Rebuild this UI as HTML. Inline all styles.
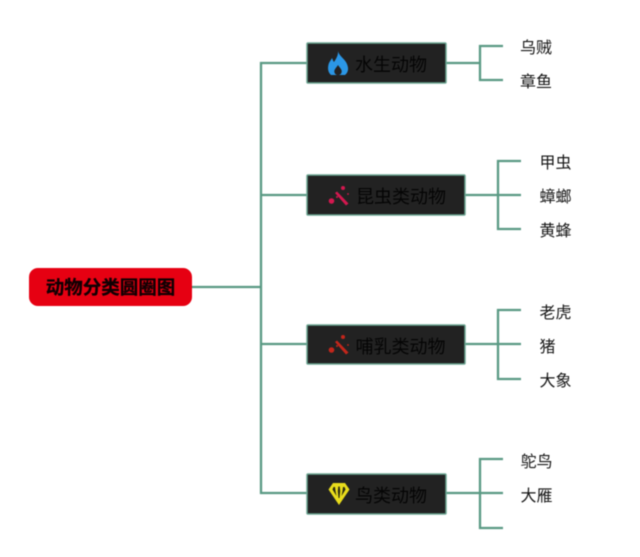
<!DOCTYPE html>
<html lang="zh">
<head>
<meta charset="utf-8">
<style>
html,body{margin:0;padding:0;background:#fff;}
#c{position:relative;width:640px;height:557px;overflow:hidden;background:#fff;filter:blur(0.55px);}
svg{position:absolute;left:0;top:0;}
text{font-family:"Liberation Sans","Noto Sans CJK SC",sans-serif;}
</style>
</head>
<body>
<div id="c">
<svg width="640" height="557" viewBox="0 0 640 557">
  <!-- connectors -->
  <g fill="none" stroke="#5a9a84" stroke-width="2.300">
    <path d="M192 287H261M307 63H261V493H307M261 195H307M261 344H307"/>
    <path d="M446 63H480M503 46H480V80H503"/>
    <path d="M465 195H521M521 161H498V229H521"/>
    <path d="M465 344H521M521 310H498V379H521"/>
    <path d="M446 493H503M503 459H480V528H503"/>
  </g>
  <!-- root -->
  <rect x="29" y="268" width="163" height="38" rx="9" fill="#e60012"/>
  <text x="110.500" y="294" font-size="18.500" font-weight="700" text-anchor="middle" fill="#100003" stroke="#100003" stroke-width="0.300">动物分类圆圈图</text>
  <!-- nodes -->
  <g fill="#222222" stroke="#6ba592" stroke-width="1.500">
    <rect x="307" y="43" width="139" height="40" rx="1"/>
    <rect x="307" y="175" width="158" height="40" rx="1"/>
    <rect x="307" y="325" width="158" height="39" rx="1"/>
    <rect x="307" y="474" width="139" height="40" rx="1"/>
  </g>
  <g font-size="18" fill="#050505">
    <text x="355" y="71">水生动物</text>
    <text x="356" y="203">昆虫类动物</text>
    <text x="355.500" y="353">哺乳类动物</text>
    <text x="355" y="502">鸟类动物</text>
  </g>
  <!-- flame -->
  <path fill="#2b97e6" fill-rule="evenodd" d="M338 51C339 56 344 58 346.500 63C349 68 348.500 72 345 75H331C327.500 72 327.500 67 329 63C330 61 331 60 332 58C333 60 333 61 334 62C336 59 338.500 55 338 51ZM338 65C336 68 333.500 70 334.500 72.500C335 74.500 336.500 75 338 75C339.500 75 341 74.500 341.500 72.500C342.500 70 340 68 338 65Z"/>
  <!-- wand 1 -->
  <g fill="#d3184f">
    <circle cx="331.500" cy="201" r="2.800"/>
    <circle cx="343" cy="188" r="2"/>
    <path d="M335 193L337 191.500L348.500 203.500L346 205.500Z"/>
    <circle cx="348" cy="194" r="0.900"/>
    <circle cx="337" cy="197" r="1"/>
  </g>
  <!-- wand 2 -->
  <g fill="#c3261b">
    <circle cx="331.500" cy="350" r="2.800"/>
    <circle cx="343" cy="337" r="2"/>
    <path d="M335 342L337 340.500L348.500 352.500L346 354.500Z"/>
    <circle cx="348" cy="345" r="0.900"/>
    <circle cx="337" cy="346" r="1"/>
  </g>
  <!-- diamond -->
  <path fill="#e8dc1c" d="M333 483H345L349.500 489.500L339 505L328.500 489.500Z"/>
  <g fill="#2a2a10">
    <path d="M333.500 487L335 487L335.500 491L336.500 496L334 492L332.500 489.500Z"/>
    <path d="M338.300 486.500H339.700L340.200 491L339.500 498H338.500L337.800 491Z"/>
    <path d="M343 487H344.500L345.500 489.500L344 492L341.500 496L342.500 491Z"/>
  </g>
  <!-- leaves -->
  <g font-size="16" fill="#161616">
    <text x="520" y="53">乌贼</text>
    <text x="520" y="87">章鱼</text>
    <text x="539.500" y="168">甲虫</text>
    <text x="539.500" y="202">蟑螂</text>
    <text x="539.500" y="236">黄蜂</text>
    <text x="539.500" y="318">老虎</text>
    <text x="539.500" y="352">猪</text>
    <text x="539.500" y="386">大象</text>
    <text x="520.500" y="467">鸵鸟</text>
    <text x="520.500" y="501">大雁</text>
  </g>
</svg>
</div>
</body>
</html>
